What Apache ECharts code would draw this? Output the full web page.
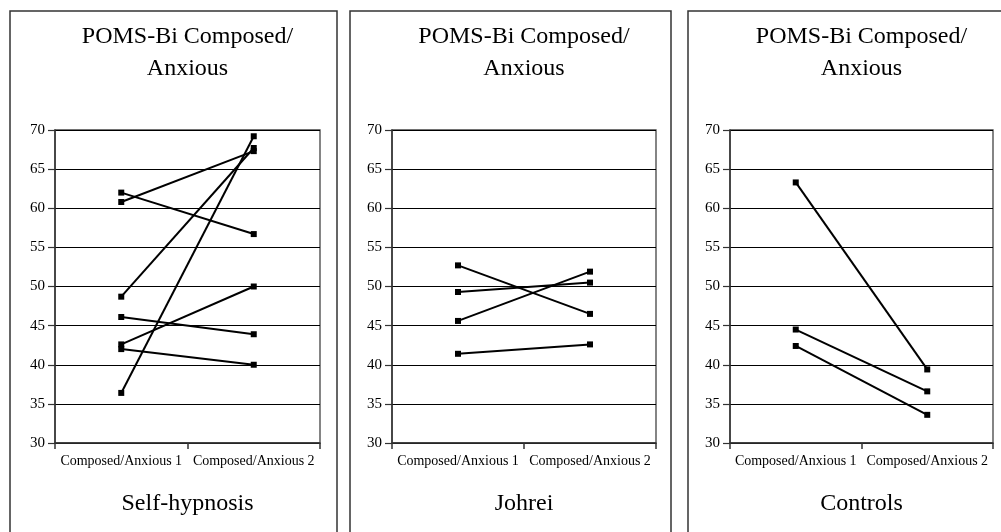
<!DOCTYPE html>
<html>
<head>
<meta charset="utf-8">
<script src="https://cdn.jsdelivr.net/npm/echarts@6/dist/echarts.min.js"></script>
<style>
html,body{margin:0;padding:0;background:#fff;}
#chart{width:1001px;height:532px;}
</style>
</head>
<body>
<div id="chart"></div>
<script>
const categories = ['Composed/Anxious 1', 'Composed/Anxious 2'];
const chartTitle = 'POMS-Bi Composed/\nAnxious';
const groupNames = ['Self-hypnosis', 'Johrei', 'Controls'];
const yMin = 30, yMax = 70, yStep = 5;

const selfHypnosisTime1 = [62.0, 60.8, 48.7, 46.1, 42.6, 42.0, 36.4];
const selfHypnosisTime2 = [56.7, 67.3, 67.7, 43.9, 50.0, 40.0, 69.2];
const johreiTime1 = [52.7, 49.3, 45.6, 41.4];
const johreiTime2 = [46.5, 50.5, 51.9, 42.6];
const controlsTime1 = [63.3, 44.5, 42.4];
const controlsTime2 = [39.4, 36.6, 33.6];

const groups = [
  [selfHypnosisTime1, selfHypnosisTime2],
  [johreiTime1, johreiTime2],
  [controlsTime1, controlsTime2]
];

const FONT = '"Liberation Serif", "Times New Roman", serif';
const gridLeft = [55, 392, 730];
const gridWidth = [265, 264, 263];
const gridTop = 130, gridHeight = 313;
const boxes = [[10, 327], [350, 321], [688, 330]];

const grids = [], xAxes = [], yAxes = [], series = [], graphics = [];
for (let g = 0; g < 3; g++) {
  grids.push({left: gridLeft[g], width: gridWidth[g], top: gridTop, height: gridHeight,
    show: true, borderColor: '#444', borderWidth: 1.3, backgroundColor: 'transparent'});
  xAxes.push({type: 'category', gridIndex: g, data: categories, boundaryGap: true,
    axisLine: {lineStyle: {color: '#333', width: 1.5}},
    axisTick: {show: true, length: 6, lineStyle: {color: '#333', width: 1.5}},
    axisLabel: {color: '#000', fontFamily: FONT, fontSize: 14, margin: 11, interval: 0},
    splitLine: {show: false}});
  yAxes.push({type: 'value', gridIndex: g, min: yMin, max: yMax, interval: yStep,
    axisLine: {show: true, lineStyle: {color: '#333', width: 1.5}},
    axisTick: {show: true, length: 7, lineStyle: {color: '#333', width: 1.2}},
    axisLabel: {color: '#000', fontFamily: FONT, fontSize: 15, margin: 10},
    splitLine: {show: true, lineStyle: {color: '#000', width: 1.2}}});
  const [t1, t2] = groups[g];
  for (let i = 0; i < t1.length; i++) {
    series.push({type: 'line', xAxisIndex: g, yAxisIndex: g, data: [t1[i], t2[i]],
      symbol: 'rect', symbolSize: 6, showSymbol: true, animation: false,
      lineStyle: {color: '#000', width: 2}, itemStyle: {color: '#000'}});
  }
  const cx = gridLeft[g] + gridWidth[g] / 2;
  graphics.push({type: 'rect', shape: {x: boxes[g][0], y: 11, width: boxes[g][1], height: 560},
    style: {fill: 'none', stroke: '#333', lineWidth: 1.5}, silent: true, z: -1});
  graphics.push({type: 'text', x: cx, y: 53,
    style: {text: chartTitle, fontFamily: FONT, fontSize: 24, lineHeight: 32, fill: '#000',
      align: 'center', verticalAlign: 'middle'}});
  graphics.push({type: 'text', x: cx, y: 504,
    style: {text: groupNames[g], fontFamily: FONT, fontSize: 24, fill: '#000',
      align: 'center', verticalAlign: 'middle'}});
}

const chart = echarts.init(document.getElementById('chart'), null, {renderer: 'canvas'});
chart.setOption({
  animation: false,
  backgroundColor: '#fff',
  grid: grids, xAxis: xAxes, yAxis: yAxes, series: series, graphic: graphics
});
</script>
</body>
</html>
